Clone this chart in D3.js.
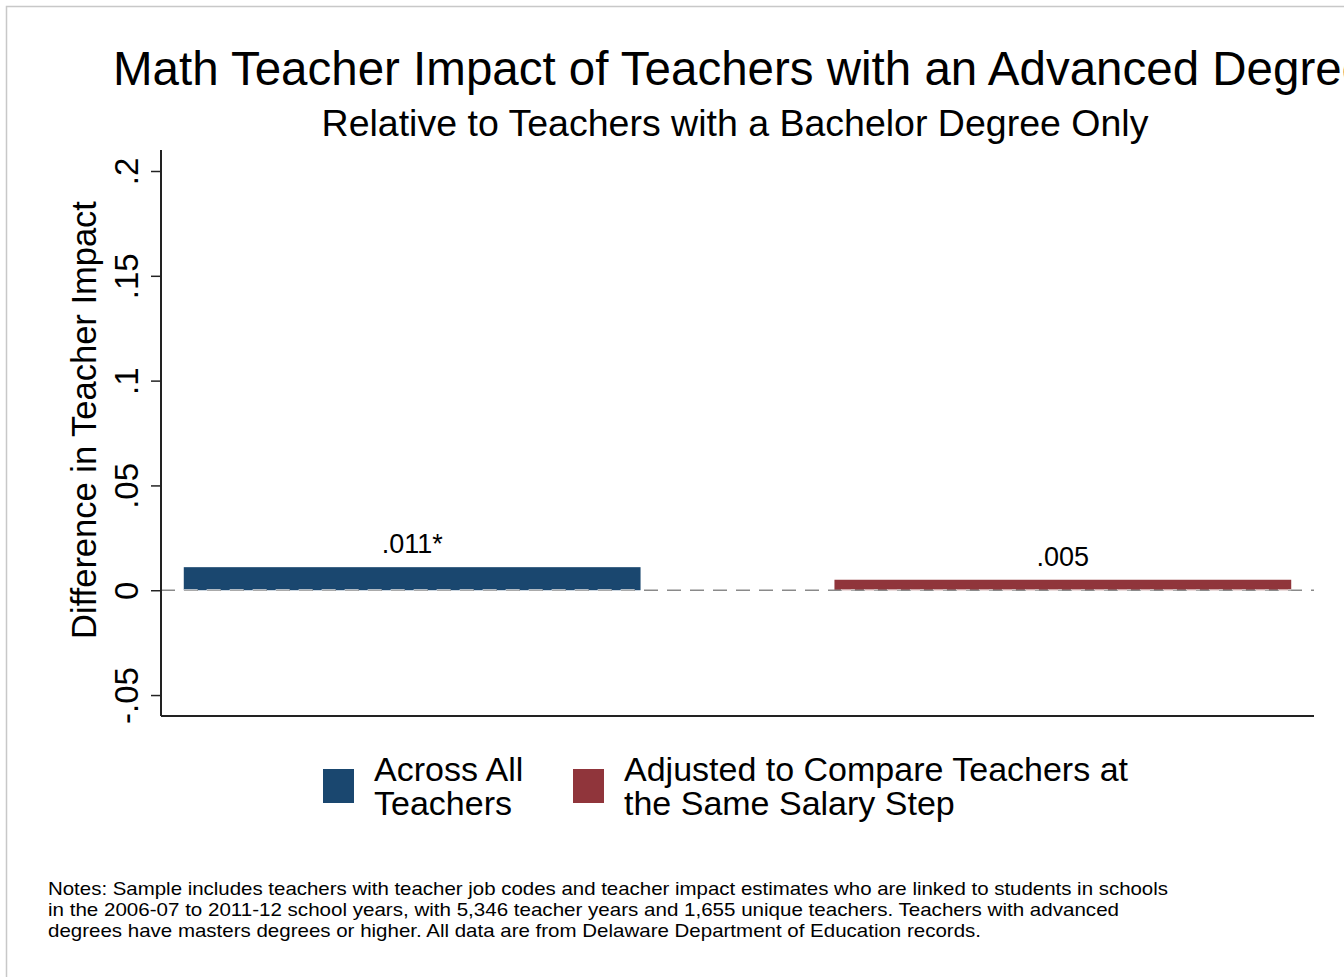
<!DOCTYPE html>
<html><head><meta charset="utf-8">
<script src="https://cdn.jsdelivr.net/npm/d3@7"></script>
<style>html,body{margin:0;padding:0;background:#fff;overflow:hidden}svg{display:block;font-family:"Liberation Sans",Arial,sans-serif}</style>
</head><body>
<svg id="c" width="1344" height="977"></svg>
<script>
const categories = ["Across All Teachers", "Adjusted to Compare Teachers at the Same Salary Step"];
const values = [0.011, 0.005];
const valueLabels = [".011*", ".005"];
const colors = ["#1a476f", "#90353b"];
const yTicks = [-0.05, 0, 0.05, 0.1, 0.15, 0.2];
const yTickLabels = ["-.05", "0", ".05", ".1", ".15", ".2"];
const legendLines = [["Across All", "Teachers"], ["Adjusted to Compare Teachers at", "the Same Salary Step"]];
const noteLines = [
  "Notes: Sample includes teachers with teacher job codes and teacher impact estimates who are linked to students in schools",
  "in the 2006-07 to 2011-12 school years, with 5,346 teacher years and 1,655 unique teachers. Teachers with advanced",
  "degrees have masters degrees or higher. All data are from Delaware Department of Education records."
];

const svg = d3.select("#c");
svg.append("rect").attr("x",6.5).attr("y",6.5).attr("width",1500).attr("height",1100)
  .attr("fill","#fff").attr("stroke","#c8c8c8").attr("stroke-width",1.5);

const x0 = 161, x1 = 1314;
const y = d3.scaleLinear().domain([-0.06, 0.2]).range([716, 171]);
const x = d3.scaleBand().domain(categories).range([x0, x1]).paddingInner(0.298).paddingOuter(0.035);

// title
svg.append("text").attr("x",113).attr("y",85).attr("font-size",47.5).attr("fill","#000")
  .text("Math Teacher Impact of Teachers with an Advanced Degree");
svg.append("text").attr("x",735).attr("y",136).attr("font-size",37.5).attr("text-anchor","middle").attr("fill","#000")
  .text("Relative to Teachers with a Bachelor Degree Only");

// bars
svg.selectAll("rect.bar").data(values).join("rect").attr("class","bar")
  .attr("x",(d,i)=>x(categories[i])).attr("width",x.bandwidth())
  .attr("y",d=>y(d)).attr("height",d=>y(0)-y(d)).attr("fill",(d,i)=>colors[i]);

// zero dashed line
svg.append("line").attr("x1",x0).attr("x2",x1).attr("y1",y(0)).attr("y2",y(0))
  .attr("stroke","#8a8a8a").attr("stroke-width",1.5).attr("stroke-dasharray","14,9");
// lighter dashes where the line crosses the bars
values.forEach((d,i)=>{
  svg.append("line").attr("x1",x(categories[i])).attr("x2",x(categories[i])+x.bandwidth())
    .attr("y1",y(0)-0.5).attr("y2",y(0)-0.5).attr("stroke","#ffffff").attr("stroke-opacity",0.55)
    .attr("stroke-width",1.5).attr("stroke-dasharray","14,9")
    .attr("stroke-dashoffset",-(x(categories[i])-x0));
});

// value labels
svg.selectAll("text.vl").data(values).join("text").attr("class","vl")
  .attr("x",(d,i)=>x(categories[i])+x.bandwidth()/2).attr("y",d=>y(d)-14)
  .attr("text-anchor","middle").attr("font-size",27).attr("fill","#000")
  .text((d,i)=>valueLabels[i]);

// y axis
const yAxis = d3.axisLeft(y).tickValues(yTicks).tickSize(10).tickFormat((d,i)=>yTickLabels[i]);
const gy = svg.append("g").attr("transform",`translate(${x0},0)`).call(yAxis);
gy.select(".domain").attr("d",`M0,${y(-0.06)}V150`).attr("stroke","#222").attr("stroke-width",2);
gy.selectAll(".tick line").attr("stroke","#222").attr("stroke-width",1.5);
gy.selectAll(".tick text").attr("font-size",33).attr("fill","#000")
  .attr("transform","rotate(-90)").attr("x",0).attr("y",-23).attr("dy",0)
  .attr("text-anchor","middle").attr("font-family","Liberation Sans, Arial, sans-serif");

// x axis line
svg.append("line").attr("x1",x0).attr("x2",x1).attr("y1",716).attr("y2",716)
  .attr("stroke","#222").attr("stroke-width",2);

// y label
svg.append("text").attr("transform","translate(96,420) rotate(-90)").attr("text-anchor","middle")
  .attr("font-size",34.5).attr("fill","#000").text("Difference in Teacher Impact");

// legend
const legX = [323, 573];
legendLines.forEach((lines,i)=>{
  svg.append("rect").attr("x",legX[i]).attr("y",769).attr("width",31).attr("height",34).attr("fill",colors[i]);
  lines.forEach((t,j)=>{
    svg.append("text").attr("x",legX[i]+51).attr("y",772+j*34).attr("font-size",34).attr("fill","#000")
      .attr("dominant-baseline","middle").text(t);
  });
});

// notes
const noteW = [1120, 1071, 933];
noteLines.forEach((t,i)=>{
  svg.append("text").attr("x",48).attr("y",895+i*21).attr("font-size",18.5).attr("fill","#000")
    .attr("textLength",noteW[i]).attr("lengthAdjust","spacingAndGlyphs").text(t);
});
</script>
</body></html>
